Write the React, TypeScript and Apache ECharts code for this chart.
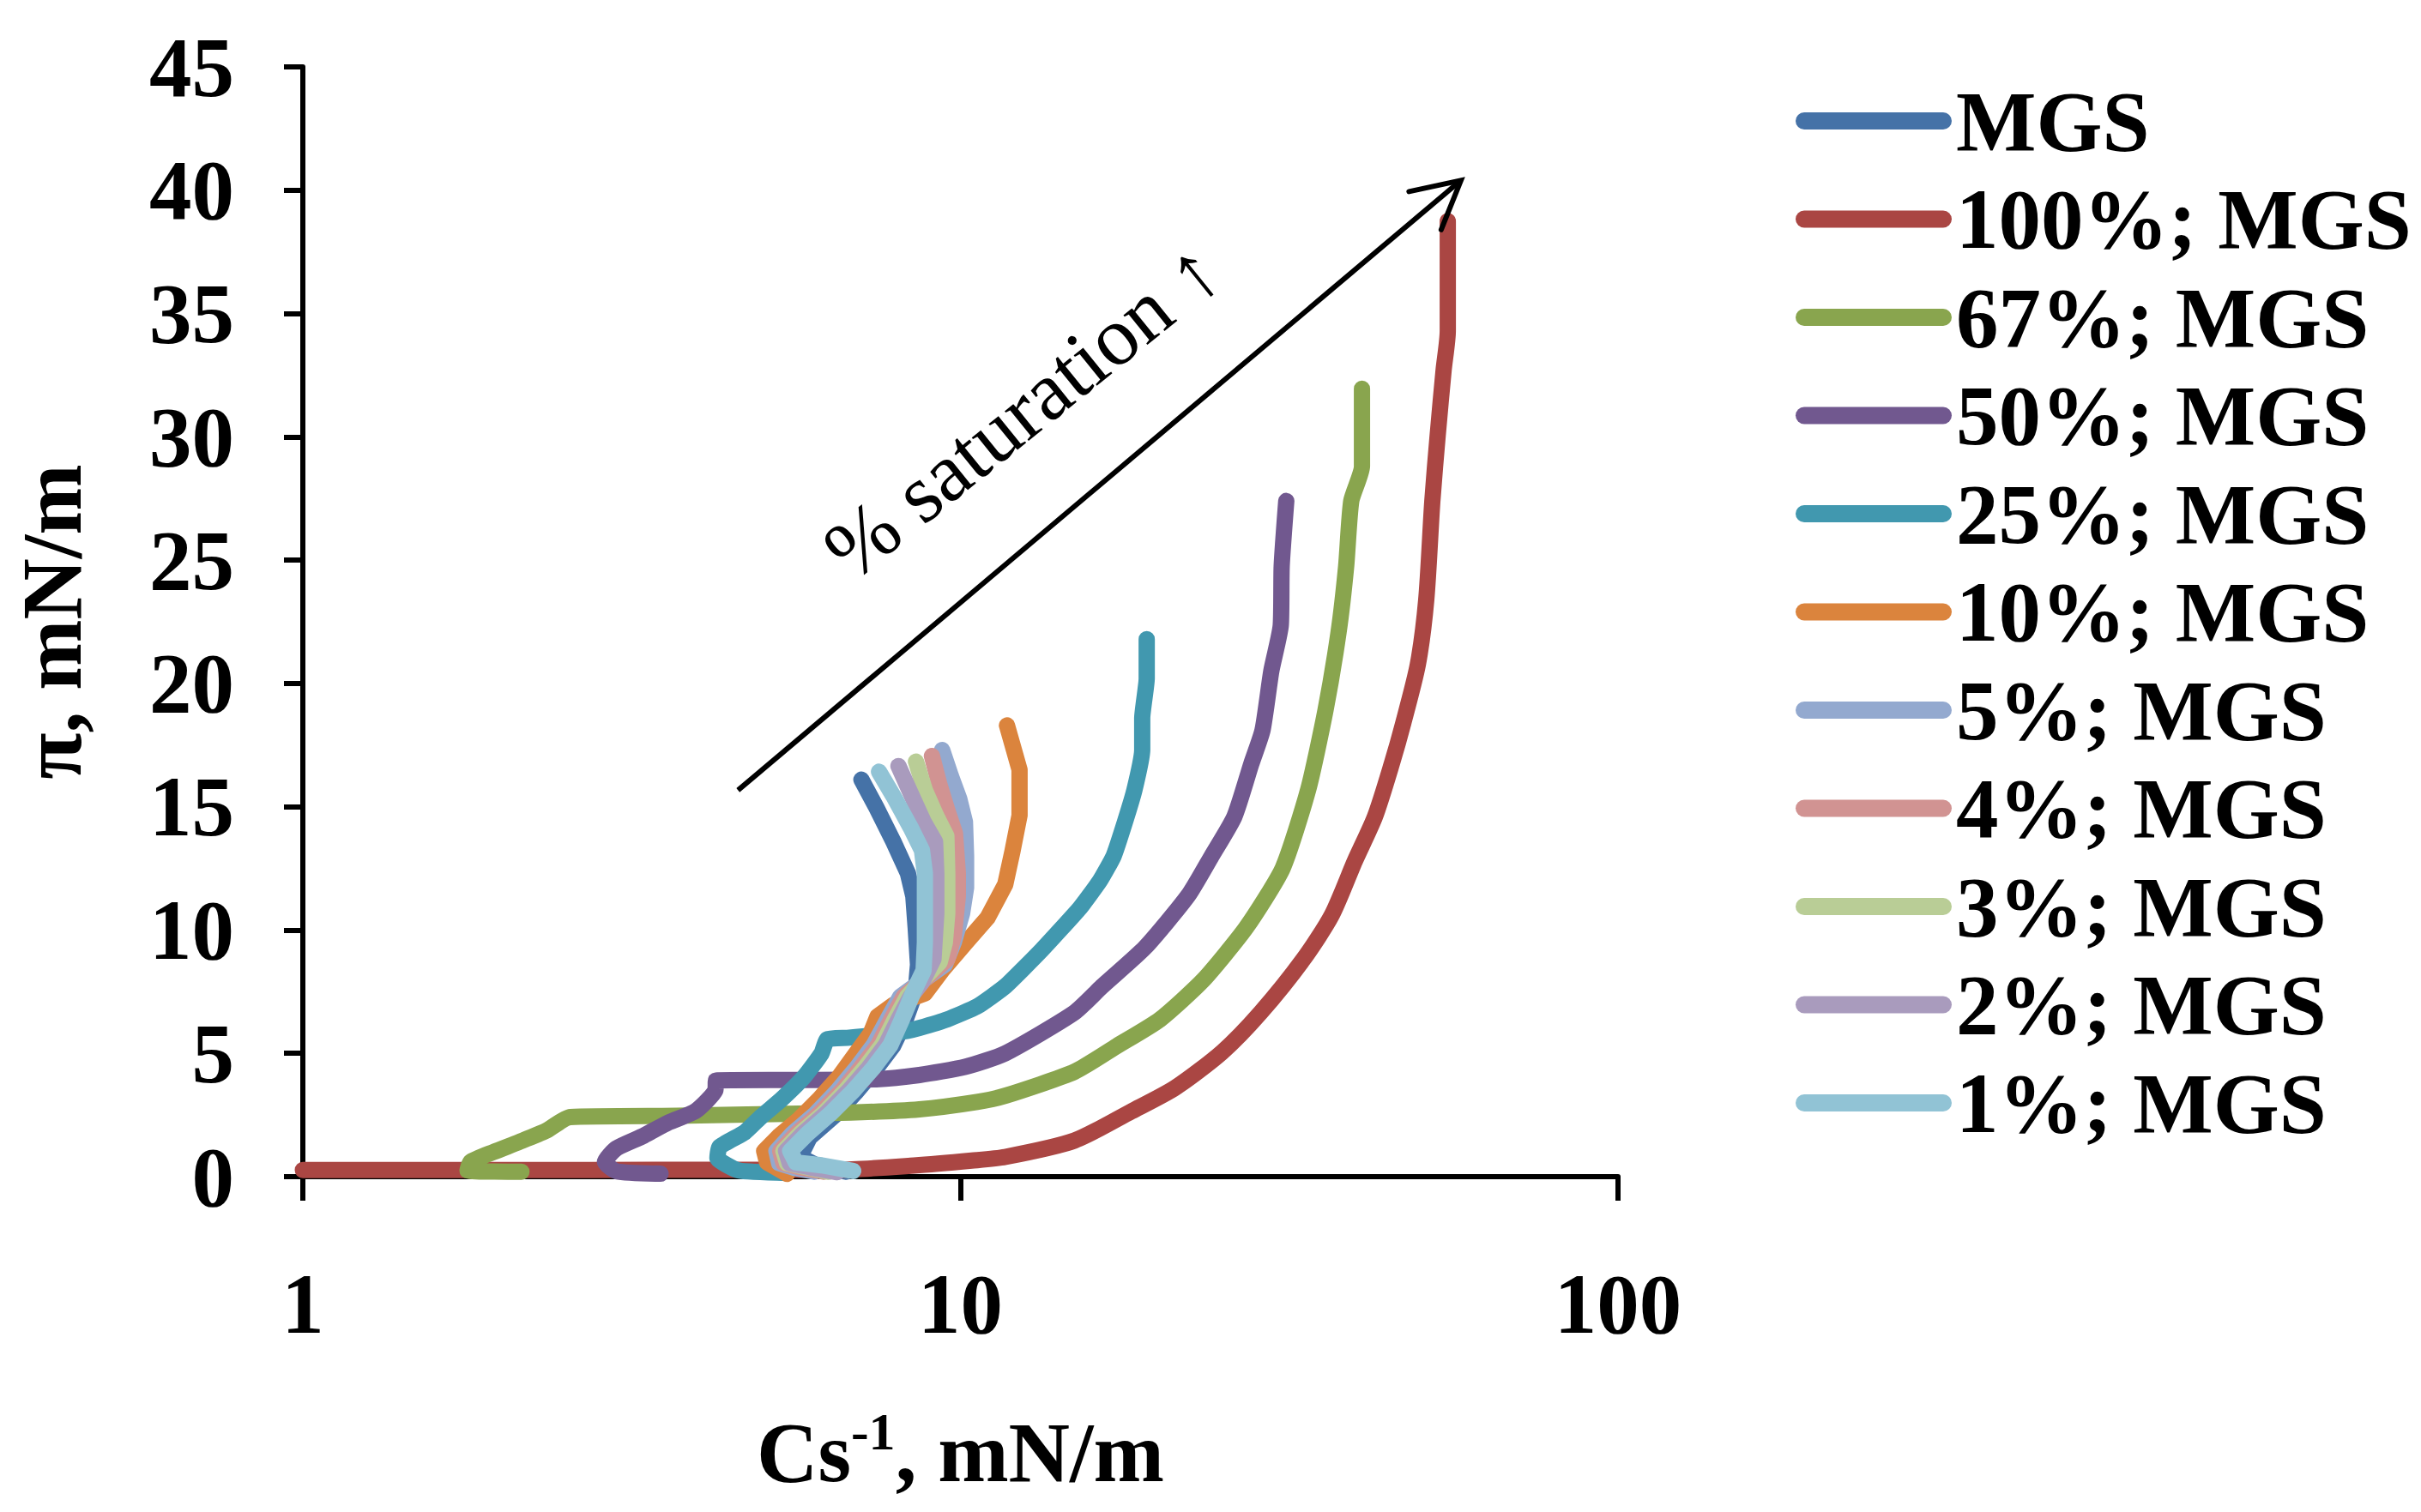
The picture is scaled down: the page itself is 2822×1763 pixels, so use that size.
import React, { useEffect, useRef } from 'react';
import * as echarts from 'echarts';

type Pt = [number, number];

const seriesNames = [
  'MGS', '100%; MGS', '67%; MGS', '50%; MGS', '25%; MGS', '10%; MGS',
  '5%; MGS', '4%; MGS', '3%; MGS', '2%; MGS', '1%; MGS',
];
const seriesColors = [
  '#4572A7', '#AA4643', '#89A54E', '#71588F', '#4198AF', '#DB843D',
  '#93A9CF', '#D19392', '#B9CD96', '#A99BBD', '#91C3D5',
];
// smoothing factor per series (0 = straight segments)
const seriesSmooth = [0, 0.25, 0.2, 0.2, 0.15, 0, 0, 0, 0, 0, 0];

const xTicks = [1, 10, 100];
const yTicks = [0, 5, 10, 15, 20, 25, 30, 35, 40, 45];

const mgs: Pt[] = [
  [6.7, 0.2], [6.1, 0.4], [5.7, 0.8], [5.9, 1.6], [6.45, 2.5], [6.95, 3.45], [7.45, 4.4],
  [7.9, 5.3], [8.25, 6.35], [8.55, 7.5], [8.62, 8.6], [8.55, 10.1], [8.48, 11.37],
  [8.32, 12.3], [7.91, 13.58], [7.45, 14.97], [7.07, 16.1],
];
const s100: Pt[] = [
  [1, 0.27], [6.5, 0.28], [8.5, 0.45], [10.4, 0.65], [11.7, 0.8], [14.9, 1.46], [18.2, 2.65],
  [21.2, 3.6], [25.0, 5.05], [28.6, 6.65], [33.2, 8.8], [36.7, 10.6], [39.8, 12.8],
  [42.7, 14.6], [45.3, 16.75], [47.1, 18.35], [49.6, 20.75], [51.1, 23.4], [52.2, 27.4],
  [53.2, 30.1], [54.3, 32.7], [55.1, 34.3], [55.1, 38.75],
];
const s67: Pt[] = [
  [2.15, 0.2], [1.78, 0.25], [1.8, 0.6], [1.95, 1.0], [2.13, 1.4], [2.34, 1.85], [2.55, 2.42],
  [3.7, 2.47], [4.74, 2.52], [6.8, 2.6], [8.66, 2.73], [10.6, 3.03], [11.7, 3.28],
  [14.9, 4.25], [17.3, 5.3], [20.1, 6.37], [23.4, 7.97], [27.2, 10.1], [30.9, 12.5],
  [33.8, 15.7], [35.9, 18.9], [37.6, 22.1], [38.6, 24.75], [39.3, 27.4], [40.8, 28.8],
  [40.8, 31.95],
];
const s50: Pt[] = [
  [3.5, 0.12], [3.0, 0.22], [2.88, 0.6], [3.0, 1.15], [3.28, 1.63], [3.6, 2.2], [3.96, 2.67],
  [4.24, 3.5], [4.25, 3.9], [5.56, 3.92], [7.45, 3.95], [8.66, 4.12], [10.16, 4.45],
  [11.7, 5.0], [14.9, 6.65], [16.4, 7.7], [19.1, 9.3], [22.2, 11.4], [24.1, 13.0],
  [26.1, 14.6], [27.7, 16.75], [28.8, 18.1], [29.7, 20.5], [30.7, 22.35], [30.8, 24.75],
  [31.3, 27.4],
];
const s25: Pt[] = [
  [5.45, 0.15], [4.6, 0.25], [4.27, 0.75], [4.3, 1.2], [4.7, 1.8], [4.98, 2.44], [5.34, 3.13],
  [5.79, 4.06], [6.15, 5.0], [6.27, 5.57], [6.73, 5.63], [7.5, 5.75], [8.32, 5.92],
  [8.66, 6.03], [9.55, 6.38], [10.6, 6.9], [11.7, 7.72], [13.3, 9.2], [15.2, 10.9],
  [16.3, 12.0], [17.1, 13.0], [17.8, 14.4], [18.4, 15.7], [18.9, 17.3], [18.9, 18.6],
  [19.2, 20.2], [19.2, 21.8],
];
const s10: Pt[] = [
  [5.45, 0.11], [5.08, 0.58], [5.03, 1.04], [5.29, 1.63], [5.68, 2.32], [6.09, 3.13],
  [6.54, 4.06], [6.94, 5.0], [7.3, 5.8], [7.48, 6.5], [7.9, 6.96], [8.83, 7.43], [9.4, 8.4],
  [10.2, 9.5], [11.0, 10.5], [11.7, 11.85], [12.0, 13.2], [12.3, 14.65], [12.3, 16.5],
  [11.77, 18.3],
];
const s5: Pt[] = [
  [6.0, 0.2], [5.6, 0.35], [5.3, 0.55], [5.25, 1.04], [5.55, 1.74], [6.02, 2.55], [6.5, 3.48],
  [6.95, 4.41], [7.38, 5.34], [7.75, 6.38], [8.1, 7.3], [8.8, 8.0], [9.47, 8.6], [9.77, 9.5],
  [10.06, 10.68], [10.2, 11.72], [10.2, 13.0], [10.16, 14.39], [9.96, 15.32], [9.67, 16.25],
  [9.38, 17.3],
];
const s4: Pt[] = [
  [6.2, 0.2], [5.7, 0.38], [5.38, 0.55], [5.32, 1.04], [5.63, 1.74], [6.1, 2.55], [6.6, 3.48],
  [7.05, 4.41], [7.5, 5.34], [7.85, 6.38], [8.2, 7.3], [8.9, 8.1], [9.55, 8.82], [9.77, 9.75],
  [9.91, 11.37], [9.91, 12.3], [9.81, 13.93], [9.55, 14.86], [9.29, 15.9], [9.05, 17.06],
];
const s3: Pt[] = [
  [6.3, 0.2], [5.8, 0.4], [5.45, 0.55], [5.38, 1.04], [5.7, 1.74], [6.18, 2.55], [6.68, 3.48],
  [7.15, 4.41], [7.6, 5.34], [7.95, 6.38], [8.3, 7.3], [8.85, 8.1], [9.3, 8.7], [9.47, 9.5],
  [9.55, 10.68], [9.55, 12.3], [9.52, 13.81], [9.19, 14.62], [8.83, 15.67], [8.56, 16.83],
];
const s2: Pt[] = [
  [6.5, 0.18], [5.9, 0.38], [5.5, 0.55], [5.43, 1.04], [5.76, 1.74], [6.24, 2.55], [6.76, 3.48],
  [7.25, 4.41], [7.7, 5.34], [8.05, 6.38], [8.4, 7.3], [8.75, 7.9], [9.1, 8.82], [9.19, 10.68],
  [9.19, 12.3], [9.15, 13.58], [8.79, 14.39], [8.4, 15.55], [8.05, 16.65],
];
const s1: Pt[] = [
  [6.87, 0.23], [6.15, 0.46], [5.62, 0.58], [5.51, 1.04], [5.85, 1.74], [6.34, 2.55],
  [6.87, 3.48], [7.37, 4.41], [7.83, 5.34], [8.15, 6.38], [8.5, 7.54], [8.79, 8.36],
  [8.83, 9.5], [8.83, 12.3], [8.74, 13.23], [8.4, 14.16], [7.91, 15.43], [7.52, 16.42],
];

const seriesData: Pt[][] = [mgs, s100, s67, s50, s25, s10, s5, s4, s3, s2, s1];

// annotation arrow in data coordinates
const arrowStart: Pt = [4.59, 15.67];
const arrowEnd: Pt = [57.7, 40.4];
const annotationText = '% saturation \u2191';

const FONT = '"Liberation Serif", "Times New Roman", Times, serif';

export default function App() {
  const ref = useRef<HTMLDivElement>(null);

  useEffect(() => {
    if (!ref.current) return;
    const chart = echarts.init(ref.current, null, { renderer: 'svg' });

    const option: any = {
      animation: false,
      backgroundColor: '#ffffff',
      grid: { left: 353, top: 78, right: 936, bottom: 391, containLabel: false },
      legend: {
        orient: 'vertical',
        left: 2088,
        top: 86,
        itemWidth: 182,
        itemHeight: 20,
        itemGap: 14.5,
        icon: 'path://M10,0H172A10,10,0,0,1,172,20H10A10,10,0,0,1,10,0Z',
        itemStyle: { borderWidth: 0 },
        textStyle: {
          fontFamily: FONT,
          fontWeight: 'bold',
          fontSize: 99,
          color: '#000',
          lineHeight: 100,
        },
        data: seriesNames,
      },
      xAxis: {
        type: 'log',
        logBase: 10,
        min: xTicks[0],
        max: xTicks[xTicks.length - 1],
        name: '{a|Cs}{b|-1}{a|, mN/m}',
        nameLocation: 'middle',
        nameGap: 266,
        nameTextStyle: {
          rich: {
            a: { fontFamily: FONT, fontWeight: 'bold', fontSize: 99, lineHeight: 110, color: '#000' },
            b: { fontFamily: FONT, fontWeight: 'bold', fontSize: 62, lineHeight: 62, verticalAlign: 'top', color: '#000' },
          },
        },
        axisLine: { show: true, lineStyle: { color: '#000', width: 6 } },
        axisTick: { show: true, length: 28, lineStyle: { color: '#000', width: 6 } },
        minorTick: { show: false },
        splitLine: { show: false },
        axisLabel: {
          margin: 99,
          fontFamily: FONT,
          fontWeight: 'bold',
          fontSize: 99,
          color: '#000',
        },
      },
      yAxis: {
        type: 'value',
        min: yTicks[0],
        max: yTicks[yTicks.length - 1],
        interval: 5,
        name: '\u03c0, mN/m',
        nameLocation: 'middle',
        nameGap: 243,
        nameTextStyle: { fontFamily: FONT, fontWeight: 'bold', fontSize: 99, color: '#000' },
        axisLine: { show: true, lineStyle: { color: '#000', width: 6 } },
        axisTick: { show: true, length: 22, lineStyle: { color: '#000', width: 6 } },
        splitLine: { show: false },
        axisLabel: {
          margin: 80,
          fontFamily: FONT,
          fontWeight: 'bold',
          fontSize: 99,
          color: '#000',
        },
      },
      series: seriesNames.map((name, i) => ({
        name,
        type: 'line',
        data: seriesData[i],
        symbol: 'none',
        showSymbol: false,
        smooth: seriesSmooth[i] > 0 ? seriesSmooth[i] : false,
        color: seriesColors[i],
        itemStyle: { color: seriesColors[i] },
        lineStyle: { color: seriesColors[i], width: 19, cap: 'round', join: 'round' },
        z: 2 + i,
        emphasis: { disabled: true },
      })),
    };

    chart.setOption(option);

    const p0 = chart.convertToPixel({ gridIndex: 0 }, arrowStart) as number[];
    const p1 = chart.convertToPixel({ gridIndex: 0 }, arrowEnd) as number[];
    const dx = p1[0] - p0[0];
    const dy = p1[1] - p0[1];
    const len = Math.sqrt(dx * dx + dy * dy);
    const ux = dx / len;
    const uy = dy / len;
    const bx = -ux;
    const by = -uy;
    const headLen = 62;
    const headAng = (28 * Math.PI) / 180;
    const rot = (a: number): number[] => [
      p1[0] + headLen * (bx * Math.cos(a) - by * Math.sin(a)),
      p1[1] + headLen * (bx * Math.sin(a) + by * Math.cos(a)),
    ];
    const armA = rot(headAng);
    const armB = rot(-headAng);
    const nx = uy;
    const ny = -ux;
    const tx = p0[0] + 0.489 * dx + 125 * nx;
    const ty = p0[1] + 0.489 * dy + 125 * ny;
    const angle = Math.atan2(-dy, dx) - (1.2 * Math.PI) / 180;

    chart.setOption({
      graphic: [
        {
          type: 'line',
          shape: { x1: p0[0], y1: p0[1], x2: p1[0], y2: p1[1] },
          style: { stroke: '#000', lineWidth: 6, lineCap: 'butt' },
          z: 100,
        },
        {
          type: 'polyline',
          shape: { points: [armA, [p1[0], p1[1]], armB] },
          style: { stroke: '#000', lineWidth: 6, fill: 'none', lineCap: 'round', lineJoin: 'miter' },
          z: 100,
        },
        {
          type: 'text',
          x: tx,
          y: ty,
          rotation: angle,
          style: {
            text: annotationText,
            font: 'normal 97px "Liberation Serif", "Times New Roman", serif',
            fill: '#000',
            align: 'center',
            verticalAlign: 'middle',
            textAlign: 'center',
            textVerticalAlign: 'middle',
          },
          z: 100,
        },
      ],
    });

    return () => {
      chart.dispose();
    };
  }, []);

  return (
    <div
      ref={ref}
      style={{ position: 'absolute', left: 0, top: 0, width: 2822, height: 1763, background: '#fff' }}
    />
  );
}
